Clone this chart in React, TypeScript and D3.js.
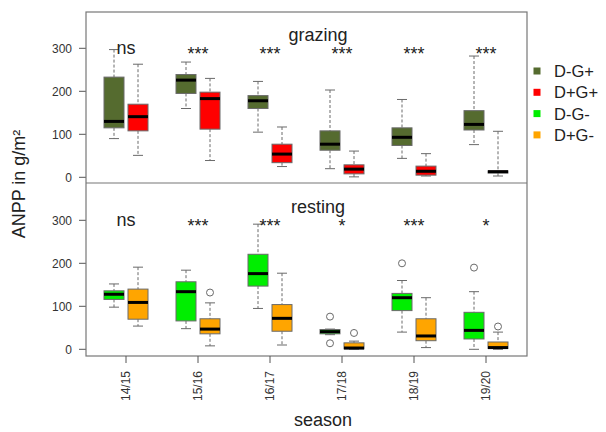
import React from "react";
import * as d3 from "d3";

const seasons = ["14/15", "15/16", "16/17", "17/18", "18/19", "19/20"];
const yTicks = [0, 100, 200, 300];

// five-number summaries: [low whisker, Q1, median, Q3, high whisker]
const grazingDGplus = [
  [90, 115, 130, 233, 297],
  [160, 195, 226, 239, 268],
  [105, 160, 178, 190, 223],
  [20, 63, 77, 108, 203],
  [44, 74, 93, 115, 181],
  [76, 110, 123, 155, 282],
];
const grazingDplusGplus = [
  [51, 108, 141, 170, 263],
  [39, 112, 183, 198, 230],
  [25, 34, 54, 77, 117],
  [1, 8, 19, 29, 61],
  [3, 5, 14, 26, 55],
  [3, 10, 13, 15, 107],
];
const restingDGminus = [
  [98, 116, 128, 136, 152],
  [48, 66, 134, 157, 184],
  [95, 147, 176, 221, 291],
  [34, 36, 41, 46, 47],
  [40, 90, 120, 130, 160],
  [0, 24, 44, 86, 134],
];
const restingDplusGminus = [
  [54, 70, 109, 140, 191],
  [8, 36, 47, 71, 108],
  [10, 42, 72, 104, 177],
  [0, 1, 3, 15, 19],
  [4, 20, 31, 71, 120],
  [0, 2, 4, 17, 40],
];
const grazingDGplusOutliers: number[][] = [[], [], [], [], [], []];
const grazingDplusGplusOutliers: number[][] = [[], [], [], [], [], []];
const restingDGminusOutliers = [[], [], [], [76, 14], [200], [190]];
const restingDplusGminusOutliers = [[], [132], [], [38], [], [53]];

const grazingSig = ["ns", "***", "***", "***", "***", "***"];
const restingSig = ["ns", "***", "***", "*", "***", "*"];

const legendLabels = ["D-G+", "D+G+", "D-G-", "D+G-"];
const legendColors = ["#556B2F", "#FF0000", "#00EE00", "#FFA500"];

const FONT = "'Liberation Sans', Arial, Helvetica, sans-serif";

const W = 606;
const H = 432;
const frame = { left: 86, right: 527, top: 12, mid: 183, bottom: 356 };

const x = d3.scalePoint<string>().domain(seasons).range([126, 486]);
const yTop = d3.scaleLinear().domain([0, 300]).range([177.3, 48.3]);
const yBot = d3.scaleLinear().domain([0, 300]).range([349.3, 220.3]);

const BOX_W = 20;
const OFFSET = 12;
const BORDER = "#6a6a6a";

function Box({
  cx,
  stats,
  outliers,
  y,
  fill,
}: {
  cx: number;
  stats: number[];
  outliers: number[];
  y: d3.ScaleLinear<number, number>;
  fill: string;
}) {
  const [lo, q1, med, q3, hi] = stats;
  const hw = BOX_W / 2;
  const cw = BOX_W / 4;
  return (
    <g>
      <line x1={cx} x2={cx} y1={y(hi)} y2={y(q3)} stroke={BORDER} strokeWidth={1} strokeDasharray="3,2" />
      <line x1={cx} x2={cx} y1={y(q1)} y2={y(lo)} stroke={BORDER} strokeWidth={1} strokeDasharray="3,2" />
      <line x1={cx - cw} x2={cx + cw} y1={y(hi)} y2={y(hi)} stroke={BORDER} strokeWidth={1} />
      <line x1={cx - cw} x2={cx + cw} y1={y(lo)} y2={y(lo)} stroke={BORDER} strokeWidth={1} />
      <rect
        x={cx - hw}
        y={y(q3)}
        width={BOX_W}
        height={Math.max(y(q1) - y(q3), 0.5)}
        fill={fill}
        stroke={BORDER}
        strokeWidth={1}
      />
      <line x1={cx - hw} x2={cx + hw} y1={y(med)} y2={y(med)} stroke="#000" strokeWidth={3} />
      {outliers.map((o, i) => (
        <circle key={i} cx={cx} cy={y(o)} r={3.5} fill="none" stroke={BORDER} strokeWidth={1} />
      ))}
    </g>
  );
}

function Panel({
  y,
  a,
  b,
  aOut,
  bOut,
  colA,
  colB,
  sig,
  title,
}: {
  y: d3.ScaleLinear<number, number>;
  a: number[][];
  b: number[][];
  aOut: number[][];
  bOut: number[][];
  colA: string;
  colB: string;
  sig: string[];
  title: string;
}) {
  const y300 = y(300);
  return (
    <g>
      {yTicks.map((t) => (
        <g key={t}>
          <line x1={79} x2={frame.left} y1={y(t)} y2={y(t)} stroke="#555" strokeWidth={1} />
          <text x={72} y={y(t)} dy="0.35em" textAnchor="end" fontSize={12} fill="#333" fontFamily={FONT}>
            {t}
          </text>
        </g>
      ))}
      {seasons.map((s, i) => (
        <g key={s}>
          <Box cx={(x(s) as number) - OFFSET} stats={a[i]} outliers={aOut[i]} y={y} fill={colA} />
          <Box cx={(x(s) as number) + OFFSET} stats={b[i]} outliers={bOut[i]} y={y} fill={colB} />
          <text
            x={x(s) as number}
            y={sig[i] === "ns" ? y300 + 5.5 : y300 + 11.5}
            textAnchor="middle"
            fontSize={18}
            fill="#222"
            fontFamily={FONT}
          >
            {sig[i]}
          </text>
        </g>
      ))}
      <text x={318} y={y300 - 7.5} textAnchor="middle" fontSize={18} fill="#222" fontFamily={FONT}>
        {title}
      </text>
    </g>
  );
}

export default function App() {
  return (
    <svg
      width={W}
      height={H}
      viewBox={`0 0 ${W} ${H}`}
      style={{ position: "absolute", left: 0, top: 0, background: "#fff" }}
    >
      <rect x={0} y={0} width={W} height={H} fill="#fff" />
      <Panel
        y={yTop}
        a={grazingDGplus}
        b={grazingDplusGplus}
        aOut={grazingDGplusOutliers}
        bOut={grazingDplusGplusOutliers}
        colA={legendColors[0]}
        colB={legendColors[1]}
        sig={grazingSig}
        title="grazing"
      />
      <Panel
        y={yBot}
        a={restingDGminus}
        b={restingDplusGminus}
        aOut={restingDGminusOutliers}
        bOut={restingDplusGminusOutliers}
        colA={legendColors[2]}
        colB={legendColors[3]}
        sig={restingSig}
        title="resting"
      />
      {/* frames */}
      <rect
        x={frame.left}
        y={frame.top}
        width={frame.right - frame.left}
        height={frame.bottom - frame.top}
        fill="none"
        stroke="#777"
        strokeWidth={1.2}
      />
      <line x1={frame.left} x2={frame.right} y1={frame.mid} y2={frame.mid} stroke="#777" strokeWidth={1.2} />
      {/* x axis */}
      {seasons.map((s) => (
        <g key={s}>
          <line x1={x(s) as number} x2={x(s) as number} y1={frame.bottom} y2={frame.bottom + 7} stroke="#555" />
          <text
            transform={`translate(${x(s) as number},${frame.bottom + 15}) rotate(-90)`}
            textAnchor="end"
            dy="0.35em"
            fontSize={12}
            fill="#333"
            fontFamily={FONT}
          >
            {s}
          </text>
        </g>
      ))}
      <text x={323} y={426} textAnchor="middle" fontSize={18} fill="#222" fontFamily={FONT}>
        season
      </text>
      <text
        transform={`translate(25,184) rotate(-90)`}
        textAnchor="middle"
        fontSize={18}
        fill="#222"
        fontFamily={FONT}
      >
        ANPP in g/m²
      </text>
      {/* legend */}
      {legendLabels.map((l, i) => (
        <g key={l}>
          <rect x={533.5} y={67.5 + i * 21.3} width={7} height={7} fill={legendColors[i]} />
          <text x={554} y={71 + i * 21.3} dy="0.36em" fontSize={16.5} fill="#222" fontFamily={FONT}>
            {l}
          </text>
        </g>
      ))}
    </svg>
  );
}
